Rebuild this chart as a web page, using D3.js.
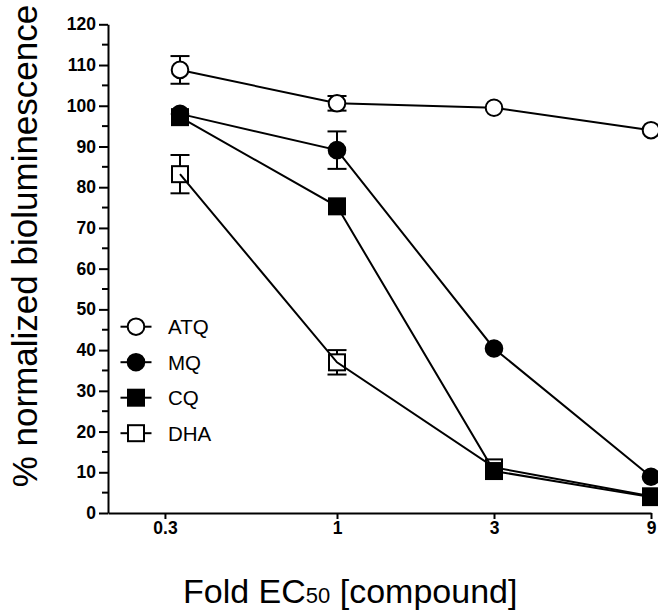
<!DOCTYPE html>
<html>
<head>
<meta charset="utf-8">
<script src="https://cdn.jsdelivr.net/npm/d3@7"></script>
<style>
  body { margin: 0; background: #fff; }
  svg { display: block; font-family: Arial, "Liberation Sans", sans-serif; }
</style>
</head>
<body>
<svg id="chart" width="658" height="614"></svg>
<script>
// doses (fold EC50), data sits at 1/3, 1, 3, 9 but axis is labelled 0.3
const doses = [1 / 3, 1, 3, 9];
const xTicks = [0.3, 1, 3, 9];
const xTickLabels = ["0.3", "1", "3", "9"];
const yTicks = d3.range(0, 121, 10);

const seriesNames = ["ATQ", "MQ", "CQ", "DHA"];
const atqMean = [108.8, 100.6, 99.5, 94.0];
const atqErr = [3.4, 1.8, 0, 0];
const mqMean = [98.0, 89.1, 40.4, 8.9];
const mqErr = [0, 4.6, 0, 0];
const cqMean = [97.2, 75.3, 10.3, 3.9];
const cqErr = [0, 0, 0, 0];
const dhaMean = [83.2, 37.0, 11.2, 4.1];
const dhaErr = [4.7, 3.0, 0, 0];

const svg = d3.select("#chart");
const margin = { top: 24, right: 7, bottom: 101, left: 108 };
const width = 658, height = 614;

const x = d3.scaleLog()
  .domain([0.2014, 9])
  .range([margin.left, width - margin.right]);
const y = d3.scaleLinear()
  .domain([0, 120])
  .range([height - margin.bottom, margin.top + 0.3]);

const symR = 8.3;   // circle radius
const sqH = 8;      // half side of square

const series = [
  { name: seriesNames[0], mean: atqMean, err: atqErr, shape: "circle", fill: "#fff" },
  { name: seriesNames[1], mean: mqMean, err: mqErr, shape: "circle", fill: "#000" },
  { name: seriesNames[2], mean: cqMean, err: cqErr, shape: "square", fill: "#000" },
  { name: seriesNames[3], mean: dhaMean, err: dhaErr, shape: "square", fill: "none" }
];

// ---- axes
const yAxis = d3.axisLeft(y).tickValues(yTicks).tickSize(9).tickPadding(3).tickSizeOuter(0);
const yAxisG = svg.append("g")
  .attr("transform", `translate(${margin.left},0)`)
  .call(yAxis);
yAxisG.select(".domain").attr("stroke-width", 2);
yAxisG.selectAll(".tick line").attr("stroke-width", 2);
yAxisG.selectAll(".tick text")
  .attr("font-size", 17.5).attr("font-weight", "bold").attr("fill", "#000")
  .attr("font-family", "Arial, 'Liberation Sans', sans-serif");

// minor ticks every 5
svg.append("g").selectAll("line")
  .data(d3.range(5, 120, 10))
  .join("line")
  .attr("x1", margin.left - 6).attr("x2", margin.left)
  .attr("y1", d => y(d)).attr("y2", d => y(d))
  .attr("stroke", "#000").attr("stroke-width", 2);

const xAxis = d3.axisBottom(x).tickValues(xTicks)
  .tickFormat((d, i) => xTickLabels[i]).tickSize(6).tickPadding(3).tickSizeOuter(0);
const xAxisG = svg.append("g")
  .attr("transform", `translate(0,${y(0)})`)
  .call(xAxis);
xAxisG.select(".domain").attr("stroke-width", 2);
xAxisG.selectAll(".tick line").attr("stroke-width", 2);
xAxisG.selectAll(".tick text")
  .attr("font-size", 17.5).attr("font-weight", "bold").attr("fill", "#000")
  .attr("font-family", "Arial, 'Liberation Sans', sans-serif");

// ---- axis titles
svg.append("text")
  .attr("transform", `translate(37,246) rotate(-90)`)
  .attr("text-anchor", "middle")
  .attr("font-size", 35)
  .text("% normalized bioluminescence");

const xt = svg.append("text")
  .attr("x", 183).attr("y", 603)
  .attr("font-size", 34);
xt.append("tspan").text("Fold EC");
xt.append("tspan").attr("font-size", 22).text("50");
xt.append("tspan").text(" [compound]");

// ---- data
const line = d3.line().x((d, i) => x(doses[i])).y(d => y(d));

function drawSymbol(g, shape, fill, cx, cy) {
  if (shape === "circle") {
    g.append("circle").attr("cx", cx).attr("cy", cy).attr("r", symR)
      .attr("fill", fill).attr("stroke", "#000").attr("stroke-width", 2);
  } else {
    g.append("rect").attr("x", cx - sqH).attr("y", cy - sqH)
      .attr("width", sqH * 2).attr("height", sqH * 2)
      .attr("fill", fill).attr("stroke", "#000").attr("stroke-width", 2);
  }
}

// draw bottom series first so CQ covers DHA, etc.
series.slice().reverse().forEach(s => {
  const g = svg.append("g").attr("class", "series-" + s.name);
  g.append("path").datum(s.mean)
    .attr("d", line).attr("fill", "none")
    .attr("stroke", "#000").attr("stroke-width", 2);
  s.mean.forEach((v, i) => {
    const e = s.err[i];
    const cx = x(doses[i]);
    const half = s.shape === "circle" ? symR : sqH;
    if (e > 0) {
      [v + e, v - e].forEach(end => {
        const ey = y(end);
        const dir = end > v ? -1 : 1;
        g.append("line").attr("x1", cx).attr("x2", cx)
          .attr("y1", y(v) + dir * half).attr("y2", ey)
          .attr("stroke", "#000").attr("stroke-width", 2);
        g.append("line").attr("x1", cx - 9.5).attr("x2", cx + 9.5)
          .attr("y1", ey).attr("y2", ey)
          .attr("stroke", "#000").attr("stroke-width", 2);
      });
    }
    drawSymbol(g, s.shape, s.fill, cx, y(v));
  });
});

// ---- legend
const legend = svg.append("g").attr("class", "legend");
series.forEach((s, i) => {
  const ly = 326.7 + i * 35.5;
  const lg = legend.append("g");
  lg.append("line").attr("x1", 120.5).attr("x2", 151.5)
    .attr("y1", ly).attr("y2", ly)
    .attr("stroke", "#000").attr("stroke-width", 2);
  drawSymbol(lg, s.shape, s.fill === "none" ? "#fff" : s.fill, 136, ly);
  lg.append("text").attr("x", 168).attr("y", ly + 7.5)
    .attr("font-size", 20.5).text(s.name);
});
</script>
</body>
</html>
